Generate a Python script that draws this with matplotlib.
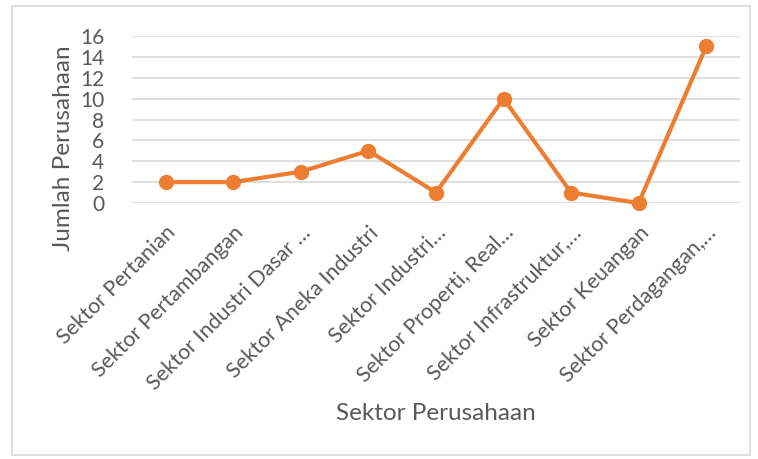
import matplotlib
matplotlib.use("Agg")
import matplotlib.pyplot as plt
from matplotlib.patches import Rectangle

categories = ["Sektor Pertanian", "Sektor Pertambangan", "Sektor Industri Dasar …",
              "Sektor Aneka Industri", "Sektor Industri…", "Sektor Properti, Real…",
              "Sektor Infrastruktur,…", "Sektor Keuangan", "Sektor Perdagangan,…"]
values = [2, 2, 3, 5, 1, 10, 1, 0, 15]
yticks = [0, 2, 4, 6, 8, 10, 12, 14, 16]

plt.rcParams['font.family'] = ['Lato', 'DejaVu Sans']
txt = '#595959'

fig = plt.figure(figsize=(7.58, 4.59), dpi=100)
fig.patches.append(Rectangle((12/758, 1-455/459), 738/758, 449/459, transform=fig.transFigure,
                             fill=False, edgecolor='#D9D9D9', linewidth=1.2))
ax = fig.add_axes([132/758, 1-203/459, 608/758, 167/459])
x = list(range(len(categories)))
ax.plot(x, values, color='#ED7D31', linewidth=3, marker='o', markersize=10, zorder=3,
        solid_capstyle='round', solid_joinstyle='round', clip_on=False)
ax.set_xlim(-0.5, len(categories) - 0.5)
ax.set_ylim(0, 16)
ax.set_yticks(yticks)
ax.set_yticklabels([str(v) for v in yticks], color=txt, fontsize=15)
ax.yaxis.grid(True, color='#D9D9D9', linewidth=1.2)
ax.set_axisbelow(True)
for s in ax.spines.values():
    s.set_visible(False)
ax.tick_params(axis='both', length=0)
ax.tick_params(axis='y', pad=20)
ax.set_xticks(x)
ax.set_xticklabels(categories, rotation=45, ha='right', rotation_mode='anchor',
                   color=txt, fontsize=15.5)
ax.tick_params(axis='x', pad=14)
fig.text(63/758, 1-148/459, "Jumlah Perusahaan", color=txt, fontsize=17.5,
         rotation=90, ha='center', va='center')
fig.text(436/758, 1-414/459, "Sektor Perusahaan", color=txt, fontsize=17.5, ha='center', va='center')
fig.savefig("out.png", dpi=100)
